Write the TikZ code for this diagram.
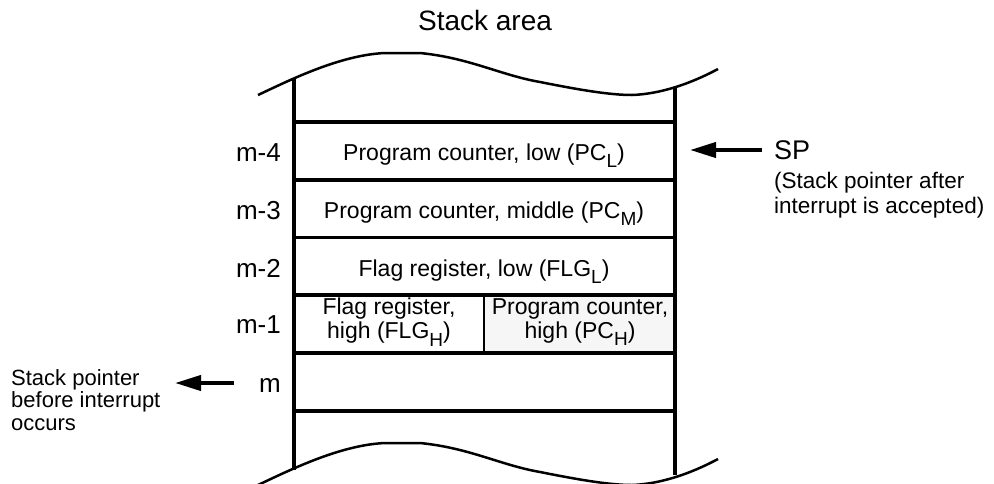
\documentclass[tikz,border=0pt]{standalone}
\usepackage{fontspec}
\setmainfont{Liberation Sans}
\usetikzlibrary{arrows.meta}
\newcommand\sbs[1]{\raisebox{-0.33em}{\fontsize{19}{19}\selectfont #1}}
\begin{document}
\begin{tikzpicture}[x=1pt,y=-1pt,
  thickline/.style={line width=3.5pt},
  celltext/.style={font=\fontsize{23}{24}\selectfont, align=center, inner sep=0pt},
  idx/.style={font=\fontsize{26}{28}\selectfont, anchor=base east, inner sep=0pt},
  note/.style={font=\fontsize{22}{22.5}\selectfont, align=left, inner sep=0pt},
  ptr/.style={line width=4pt, -{Triangle[length=26pt,width=15pt]}}]
\useasboundingbox (0,0) rectangle (994,483);
% wavy ends
\def\wave{(258,95) .. controls (290,80) and (340,55) .. (385,53) -- (420,53) .. controls (470,58) and (500,75) .. (540,82) .. controls (580,90) and (610,95) .. (632,95) .. controls (660,94) and (690,84) .. (718,69)}
\draw[line width=2.5pt] \wave;
\begin{scope}[yshift=-390pt]
\draw[line width=2.5pt] \wave;
\end{scope}
% column corners
\coordinate (LT) at (294,78);
\coordinate (LB) at (294,470);
\coordinate (RT) at (675,87);
\coordinate (RB) at (675,475);
% shaded cell
\fill[gray!7] (484,295) rectangle (675,353);
% horizontals
\foreach \y in {122,180,237.5,295,353,411}{
  \draw[thickline] (294,\y) -- (675,\y);
}
\draw[line width=1.5pt] (484,295) -- (484,353);
\draw[thickline] (LT) -- (LB);
\draw[thickline] (RT) -- (RB);
% texts
\node[font=\fontsize{28}{30}\selectfont, anchor=base, inner sep=0pt] (title) at (485,30) {Stack area};
\node[celltext, anchor=base] (c4) at (484,160) {Program counter, low (PC\sbs{L})};
\node[celltext, anchor=base] (c3) at (484,218) {Program counter, middle (PC\sbs{M})};
\node[celltext, anchor=base] (c2) at (484,276) {Flag register, low (FLG\sbs{L})};
\node[celltext] (c1a) at (389,322) {Flag register,\\high (FLG\sbs{H})};
\node[celltext] (c1b) at (580,322) {Program counter,\\high (PC\sbs{H})};
\node[idx] (m4) at (281,161) {m-4};
\node[idx] (m3) at (281,219) {m-3};
\node[idx] (m2) at (281,277) {m-2};
\node[idx] (m1) at (281,333) {m-1};
\node[idx] (m0) at (281,392) {m};
% SP
\node[font=\fontsize{27}{28}\selectfont, anchor=base west, inner sep=0pt] (sp) at (774,159) {SP};
\node[font=\fontsize{22.5}{25}\selectfont, align=left, inner sep=0pt, anchor=base west] (spn) at (774,213) {(Stack pointer after\\interrupt is accepted)};
\coordinate (spt) at (690,150);
\coordinate (sps) at (762,150);
\draw[ptr] (sps) -- (spt);
% before
\node[note, anchor=base west] (bef) at (11,430) {Stack pointer\\before interrupt\\occurs};
\coordinate (bt) at (175,383);
\coordinate (bs) at (234,383);
\draw[ptr] (bs) -- (bt);
\end{tikzpicture}
\end{document}
